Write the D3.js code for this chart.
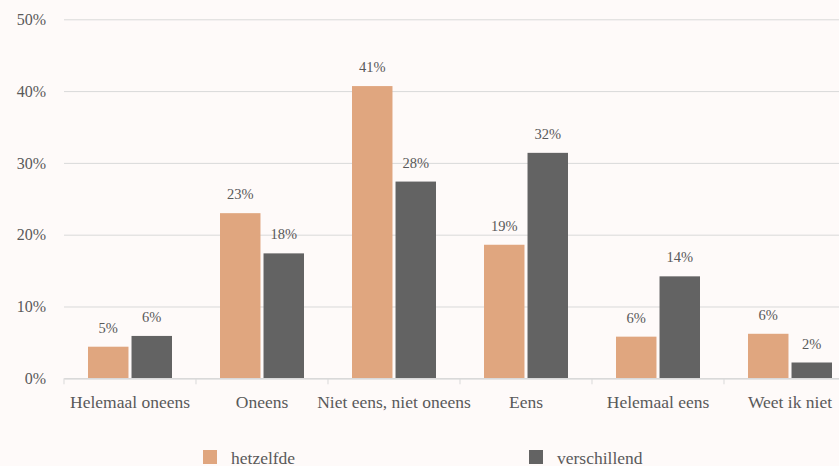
<!DOCTYPE html>
<html>
<head>
<meta charset="utf-8">
<script src="https://cdn.jsdelivr.net/npm/d3@7"></script>
<style>
  html, body { margin: 0; padding: 0; background: #fefaf9; }
  svg { display: block; }
  svg text { font-family: "Liberation Serif", "Times New Roman", Times, serif !important; }
</style>
</head>
<body>
<svg id="chart" width="839" height="466"></svg>
<script>
const categories = ["Helemaal oneens", "Oneens", "Niet eens, niet oneens", "Eens", "Helemaal eens", "Weet ik niet"];
const seriesNames = ["hetzelfde", "verschillend"];
const hetzelfde = [4.4, 23.0, 40.7, 18.6, 5.8, 6.2];
const verschillend = [5.9, 17.4, 27.4, 31.4, 14.2, 2.2];
const hetzelfdeLabels = ["5%", "23%", "41%", "19%", "6%", "6%"];
const verschillendLabels = ["6%", "18%", "28%", "32%", "14%", "2%"];
const yTicks = [0, 10, 20, 30, 40, 50];
const colors = ["#e0a67f", "#636363"];

const svg = d3.select("#chart");
const plotLeft = 64, plotRight = 856, plotTop = 19.3, plotBottom = 378.3;
const textColor = "#595959";

const x0 = d3.scaleBand().domain(categories).range([plotLeft, plotRight]).paddingInner(0).paddingOuter(0);
const x1 = d3.scaleBand().domain(seriesNames).range([24, 108]).paddingInner(0.07);
const y = d3.scaleLinear().domain([0, 50]).range([plotBottom, plotTop]);

// Y axis with gridlines
const yAxis = svg.append("g")
  .attr("transform", `translate(${plotLeft},0)`)
  .call(d3.axisLeft(y).tickValues(yTicks).tickFormat(d => d + "%").tickSize(-(plotRight - plotLeft)).tickPadding(18));
yAxis.attr("font-family", null);
yAxis.select(".domain").remove();
yAxis.selectAll(".tick line").attr("stroke", "#d9d9d9").attr("stroke-width", 1);
yAxis.selectAll(".tick text")
  .attr("fill", textColor)
  .style("font-size", "16px");

// Bars
const data = categories.map((c, i) => ({
  cat: c,
  vals: [
    { s: seriesNames[0], v: hetzelfde[i], label: hetzelfdeLabels[i] },
    { s: seriesNames[1], v: verschillend[i], label: verschillendLabels[i] }
  ]
}));

const groups = svg.append("g").selectAll("g")
  .data(data).join("g")
  .attr("transform", d => `translate(${x0(d.cat)},0)`);

groups.selectAll("rect")
  .data(d => d.vals).join("rect")
  .attr("x", d => x1(d.s))
  .attr("width", x1.bandwidth())
  .attr("y", d => y(d.v))
  .attr("height", d => y(0) - y(d.v))
  .attr("fill", (d, i) => colors[i]);

groups.selectAll("text")
  .data(d => d.vals).join("text")
  .attr("x", d => x1(d.s) + x1.bandwidth() / 2)
  .attr("y", d => y(d.v) - 14)
  .attr("text-anchor", "middle")
  .attr("fill", textColor)
  .style("font-size", "14.5px")
  .text(d => d.label);

// X axis
const xAxis = svg.append("g")
  .attr("transform", `translate(0,${plotBottom})`)
  .call(d3.axisBottom(x0).tickSize(0).tickPadding(0));
xAxis.attr("font-family", null);
xAxis.select(".domain").attr("stroke", "#d9d9d9").attr("stroke-width", 1.6);
xAxis.selectAll(".tick text")
  .attr("y", 30)
  .attr("dy", 0)
  .attr("fill", textColor)
  .style("font-size", "17.5px");

// Boundary tick marks
const boundaries = categories.map(c => x0(c)).concat([x0.range()[1]]);
svg.append("g").selectAll("line")
  .data(boundaries).join("line")
  .attr("x1", d => d).attr("x2", d => d)
  .attr("y1", plotBottom).attr("y2", plotBottom + 6)
  .attr("stroke", "#d9d9d9").attr("stroke-width", 1);

// Legend
const legendX = [203, 529];
const legend = svg.append("g").selectAll("g")
  .data(seriesNames).join("g")
  .attr("transform", (d, i) => `translate(${legendX[i]},450)`);
legend.append("rect")
  .attr("width", 14).attr("height", 14)
  .attr("fill", (d, i) => colors[i]);
legend.append("text")
  .attr("x", 28).attr("y", 13.5)
  .attr("fill", textColor)
  .style("font-size", "17.5px")
  .text(d => d);
</script>
</body>
</html>
